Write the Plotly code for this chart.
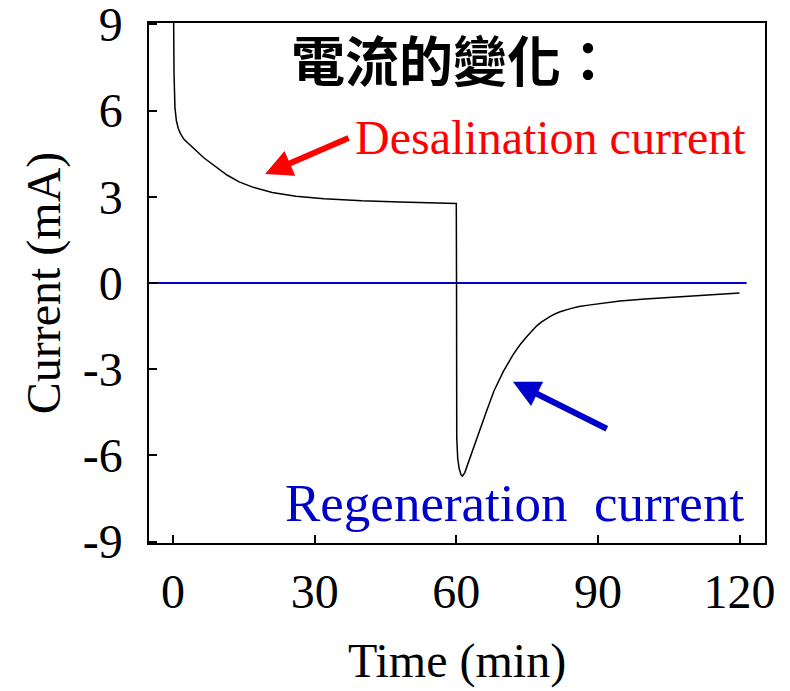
import plotly.graph_objects as go

# Data (time in min, current in mA)
time_min = [0, 0.03, 0.1, 0.2, 0.4, 0.7, 1.1, 1.6, 2.3, 3.5, 4.8, 6.5, 9.1, 11.5, 14,
            17, 21, 26, 32, 40, 48, 55, 60,
            60.05, 60.1, 60.3, 60.6, 61.0, 61.3, 61.8, 62.9, 64.5, 66.4, 68, 70, 72,
            73.5, 75, 76, 77, 78, 79, 80, 81, 82, 84, 86, 88, 90.5, 94.7, 100, 104.6, 110, 115, 120]
current_ma = [12, 9.5, 8.2, 7.3, 6.1, 5.65, 5.38, 5.19, 5.0, 4.8, 4.62, 4.36, 4.04, 3.75, 3.52,
              3.33, 3.15, 3.02, 2.93, 2.86, 2.82, 2.79, 2.77,
              0.0, -5.4, -6.1, -6.45, -6.68, -6.72, -6.6, -6.07, -5.3, -4.46, -3.75, -3.07, -2.5,
              -2.15, -1.85, -1.66, -1.5, -1.36, -1.25, -1.15, -1.07, -1.0, -0.9, -0.82, -0.77,
              -0.72, -0.63, -0.56, -0.5, -0.45, -0.4, -0.35]

zero_t = [-3.5, 121.5]
zero_v = [0, 0]

x_ticks = [0, 30, 60, 90, 120]
y_ticks = [-9, -6, -3, 0, 3, 6, 9]
y_labels = ["-9", "-6", "-3", "0", "3", "6", "9"]

serif = "Liberation Serif, Times New Roman, serif"

fig = go.Figure()
fig.add_trace(go.Scatter(x=zero_t, y=zero_v, mode="lines",
                         line=dict(color="rgb(0,0,204)", width=2), hoverinfo="skip"))
fig.add_trace(go.Scatter(x=time_min, y=current_ma, mode="lines",
                         line=dict(color="black", width=1.5)))

# title text and labels
fig.add_annotation(x=59.3, y=7.8, text="電流的變化：", showarrow=False,
                   font=dict(family="Noto Sans CJK TC", size=54, color="black", weight="bold"))
fig.add_annotation(x=79.9, y=5.05, text="Desalination current", showarrow=False,
                   font=dict(family=serif, size=48, color="red"))
fig.add_annotation(x=72.3, y=-7.65, text="Regeneration\u00a0 current", showarrow=False,
                   font=dict(family=serif, size=53, color="rgb(0,0,204)"))

# arrows
fig.add_annotation(x=19.5, y=3.79, ax=37.5, ay=5.07, axref="x", ayref="y",
                   text="", showarrow=True, arrowhead=2, arrowsize=0.9,
                   arrowwidth=6, arrowcolor="red")
fig.add_annotation(x=72, y=-3.44, ax=92.2, ay=-5.1, axref="x", ayref="y",
                   text="", showarrow=True, arrowhead=2, arrowsize=0.9,
                   arrowwidth=6, arrowcolor="rgb(0,0,204)")

axis_common = dict(showline=True, linecolor="black", linewidth=1.5, mirror=True,
                   ticks="inside", ticklen=8, tickwidth=1.5, tickcolor="black",
                   showgrid=False, zeroline=False, automargin=False,
                   ticklabeloverflow="allow",
                   tickfont=dict(family=serif, size=48, color="black"))

fig.update_xaxes(range=[-5.1, 125.4], tickvals=x_ticks, ticklabelstandoff=6,
                 title=dict(text="Time (min)", font=dict(family=serif, size=48, color="black"),
                            standoff=26),
                 **axis_common)
fig.update_yaxes(range=[-9.05, 9.05], tickvals=y_ticks, ticktext=y_labels, ticklabelstandoff=15,
                 title=dict(text="Current (mA)", font=dict(family=serif, size=48, color="black"),
                            standoff=7),
                 **axis_common)

# page has an 8px body margin, so the figure is sized to fit the window
fig.update_layout(
    width=782, height=683,
    margin=dict(l=141, r=25, t=15, b=148),
    plot_bgcolor="white", paper_bgcolor="white",
    showlegend=False,
)

fig.write_html("out.html")
